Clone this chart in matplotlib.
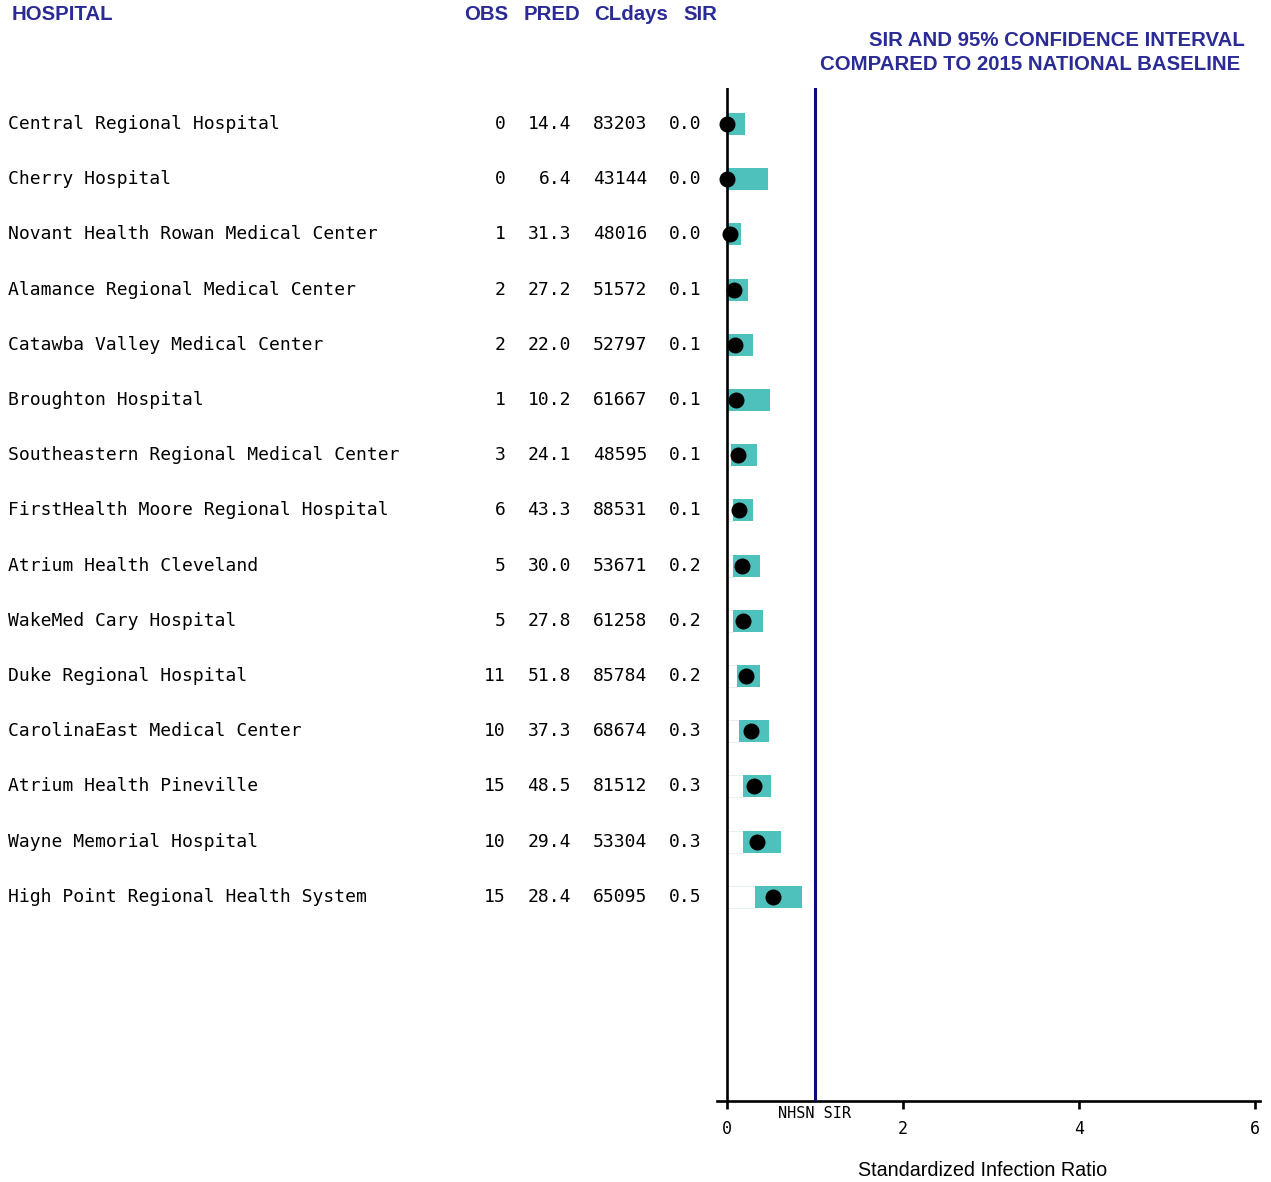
import matplotlib
matplotlib.use("Agg")
import matplotlib.pyplot as plt
from matplotlib.transforms import blended_transform_factory

# Facility-level CLABSI summary
hospitals = [
    "Central Regional Hospital",
    "Cherry Hospital",
    "Novant Health Rowan Medical Center",
    "Alamance Regional Medical Center",
    "Catawba Valley Medical Center",
    "Broughton Hospital",
    "Southeastern Regional Medical Center",
    "FirstHealth Moore Regional Hospital",
    "Atrium Health Cleveland",
    "WakeMed Cary Hospital",
    "Duke Regional Hospital",
    "CarolinaEast Medical Center",
    "Atrium Health Pineville",
    "Wayne Memorial Hospital",
    "High Point Regional Health System",
]
obs = [0, 0, 1, 2, 2, 1, 3, 6, 5, 5, 11, 10, 15, 10, 15]
pred = [14.4, 6.4, 31.3, 27.2, 22.0, 10.2, 24.1, 43.3, 30.0, 27.8, 51.8, 37.3, 48.5, 29.4, 28.4]
cldays = [83203, 43144, 48016, 51572, 52797, 61667, 48595, 88531, 53671, 61258,
          85784, 68674, 81512, 53304, 65095]
sir = [0.0, 0.0, 0.032, 0.074, 0.091, 0.098, 0.124, 0.139, 0.167, 0.180,
       0.212, 0.268, 0.309, 0.340, 0.528]
ci_low = [0.0, 0.0, 0.002, 0.010, 0.015, 0.003, 0.040, 0.063, 0.067, 0.070,
          0.114, 0.140, 0.186, 0.178, 0.315]
ci_high = [0.208, 0.470, 0.157, 0.243, 0.300, 0.485, 0.345, 0.290, 0.375, 0.405,
           0.370, 0.480, 0.505, 0.610, 0.855]
baseline = 1.0
xticks = [0, 2, 4, 6]

W, H = 1271, 1182
NAVY = "#2b2b96"
TEAL = "#4fc1bd"
MONO = "DejaVu Sans Mono"
SANS = "Liberation Sans"


def fx(px):
    return px / W


def fy(py):
    return 1 - py / H


fig = plt.figure(figsize=(W / 100, H / 100), dpi=100)
ax = fig.add_axes([fx(717), fy(1101), (1260 - 717) / W, (1101 - 88) / H])

n = len(hospitals)
rows = list(range(n))
ax.set_xlim(-10 / 88, 6 + 5 / 88)
ax.set_ylim(n - 1 + 3.70, -0.652)

# light bars from zero to the lower limit, teal bars across the interval
ax.barh(rows, ci_low, left=0, height=0.4, color="white",
        edgecolor="#e6f3f3", linewidth=0.8, zorder=1)
ax.barh(rows, [h - l for l, h in zip(ci_low, ci_high)], left=ci_low, height=0.4,
        color=TEAL, edgecolor="none", zorder=2)
ax.axvline(0, color="black", lw=1.9, zorder=3)
ax.axvline(baseline, color="#0b0b7a", lw=2.2, zorder=3)
ax.plot(sir, rows, "o", color="black", markersize=10.5, zorder=4)

for s in ["left", "right", "top"]:
    ax.spines[s].set_visible(False)
ax.spines["bottom"].set_linewidth(1.9)
ax.set_yticks([])
ax.set_xticks(xticks)
ax.set_xticklabels([str(t) for t in xticks], fontfamily=MONO, fontsize=12)
ax.tick_params(axis="x", direction="out", length=6, width=1.9, pad=8)

ax.text(baseline, fy(1113), "NHSN SIR",
        transform=blended_transform_factory(ax.transData, fig.transFigure),
        ha="center", va="center", fontfamily=MONO, fontsize=11)
fig.text(fx(983), fy(1170), "Standardized Infection Ratio", ha="center", va="center",
         fontfamily=SANS, fontsize=14.2)

# table columns
tr = blended_transform_factory(fig.transFigure, ax.transData)
for i in rows:
    ax.text(fx(8), i, hospitals[i], transform=tr, ha="left", va="center",
            fontfamily=MONO, fontsize=13, clip_on=False)
    ax.text(fx(506), i, f"{obs[i]}", transform=tr, ha="right", va="center",
            fontfamily=MONO, fontsize=13, clip_on=False)
    ax.text(fx(571), i, f"{pred[i]:.1f}", transform=tr, ha="right", va="center",
            fontfamily=MONO, fontsize=13, clip_on=False)
    ax.text(fx(647), i, f"{cldays[i]}", transform=tr, ha="right", va="center",
            fontfamily=MONO, fontsize=13, clip_on=False)
    ax.text(fx(701), i, f"{sir[i]:.1f}", transform=tr, ha="right", va="center",
            fontfamily=MONO, fontsize=13, clip_on=False)

# headers
hdr = dict(color=NAVY, fontfamily=SANS, fontweight="bold", fontsize=14.7, va="center")
fig.text(fx(12), fy(15), "HOSPITAL", ha="left", **hdr)
fig.text(fx(508), fy(15), "OBS", ha="right", **hdr)
fig.text(fx(580), fy(15), "PRED", ha="right", **hdr)
fig.text(fx(668), fy(15), "CLdays", ha="right", **hdr)
fig.text(fx(717), fy(15), "SIR", ha="right", **hdr)
fig.text(fx(1245), fy(40), "SIR AND 95% CONFIDENCE INTERVAL", ha="right", **hdr)
fig.text(fx(1240), fy(65), "COMPARED TO 2015 NATIONAL BASELINE", ha="right", **hdr)

fig.savefig("out.png", dpi=100, facecolor="white")
